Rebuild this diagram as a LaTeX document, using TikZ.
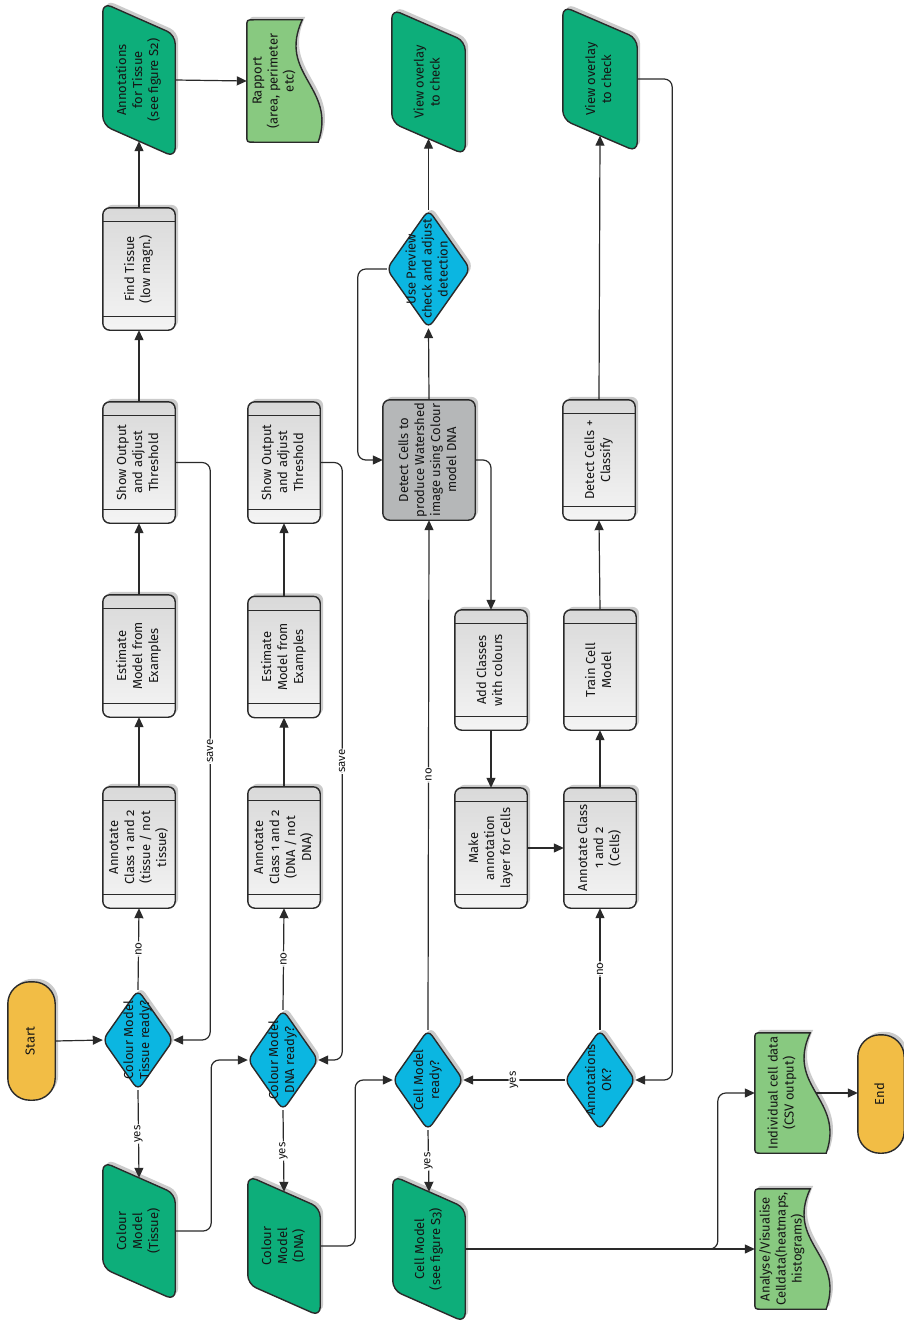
\documentclass[tikz,border=0pt]{standalone}
\usepackage{fontspec}
\setmainfont{Fira Sans}[Numbers=OldStyle]
\usetikzlibrary{arrows.meta,backgrounds,calc}
\definecolor{termc}{HTML}{F2BD45}
\definecolor{diac}{HTML}{0BB6E1}
\definecolor{datac}{HTML}{0DAE7A}
\definecolor{docc}{HTML}{88C980}
\definecolor{procc}{HTML}{D9D9D9}
\definecolor{proclc}{HTML}{F4F4F4}
\definecolor{darkc}{HTML}{B5B7B8}
\definecolor{linec}{HTML}{2A2A2A}
\definecolor{txtc}{HTML}{151515}
\newcommand\mysize{\fontsize{13}{16}\selectfont}
\newcommand\lblsize{\fontsize{11.5}{13}\selectfont}
\tikzset{
  shp/.style={draw=linec, line width=1.4pt},
  shad/.style={fill=black!45, opacity=0.45, transform canvas={shift={(3pt,3pt)}}},
  conn/.style={draw=linec, line width=1.2pt, rounded corners=8pt},
  arr/.style={conn, -{Triangle[length=10pt,width=9pt]}},
  lbl/.style={fill=white, inner sep=1pt, rotate=90, font=\lblsize, text=txtc},
  box/.style={inner sep=0pt, font=\mysize, text=txtc},
}
\newcommand\mknode[6]{\node[box, minimum width=#4pt, minimum height=#5pt] (#1) at (#2,#3) {\rotatebox{90}{\begin{tabular}{@{}c@{}}#6\end{tabular}}};}
% shape paths
\newcommand\procpath[2]{\path[#2, rounded corners=7pt] (#1.south west) rectangle (#1.north east);}
\newcommand\termpath[2]{\path[#2, rounded corners=22pt] (#1.south west) rectangle (#1.north east);}
\newcommand\diapath[2]{\path[#2, rounded corners=7pt] (#1.north) -- (#1.east) -- (#1.south) -- (#1.west) -- cycle;}
\newcommand\datapath[2]{\path[#2, rounded corners=9pt] ([yshift=16pt]#1.north west) -- ([yshift=-16pt]#1.north east) -- ([yshift=-16pt]#1.south east) -- ([yshift=16pt]#1.south west) -- cycle;}
\newcommand\docpath[2]{\path[#2] (#1.north east) .. controls ($(#1.north east)!0.45!(#1.south east)+(-25pt,0)$) and ($(#1.north east)!0.55!(#1.south east)+(35pt,0)$) .. ([xshift=16pt]#1.south east)
  -- ([xshift=7pt]#1.south west) .. controls (#1.south west) .. ([yshift=7pt]#1.south west)
  -- ([yshift=-7pt]#1.north west) .. controls (#1.north west) .. ([xshift=7pt]#1.north west) -- cycle;}
% shape drawers
\newcommand\proc[1]{\begin{pgfonlayer}{background}\procpath{#1}{shad}\procpath{#1}{shp, top color=procc, bottom color=proclc}
  \draw[linec, line width=1.1pt] ([yshift=-14pt]#1.north west) -- ([yshift=-14pt]#1.north east);
  \draw[linec, line width=1.1pt] ([yshift=14pt]#1.south west) -- ([yshift=14pt]#1.south east);\end{pgfonlayer}}
\newcommand\darkproc[1]{\begin{pgfonlayer}{background}\procpath{#1}{shad}\procpath{#1}{shp, fill=darkc}\end{pgfonlayer}}
\newcommand\term[1]{\begin{pgfonlayer}{background}\termpath{#1}{shad}\termpath{#1}{shp, fill=termc}\end{pgfonlayer}}
\newcommand\dia[1]{\begin{pgfonlayer}{background}\diapath{#1}{shad}\diapath{#1}{shp, fill=diac}\end{pgfonlayer}}
\newcommand\data[1]{\begin{pgfonlayer}{background}\datapath{#1}{shad}\datapath{#1}{shp, fill=datac}\end{pgfonlayer}}
\newcommand\doc[1]{\begin{pgfonlayer}{background}\docpath{#1}{shad}\docpath{#1}{shp, fill=docc}\end{pgfonlayer}}
\begin{document}
\begin{tikzpicture}[x=1pt, y=-1pt]
\useasboundingbox (0,0) rectangle (904,1327);
\begin{pgfonlayer}{background}\fill[white] (0,0) rectangle (904,1327);\end{pgfonlayer}
% column 1
\mknode{start}{31.5}{1041}{47}{118}{Start}\term{start}
\mknode{d1}{138}{1040}{70}{100}{Colour Model\\Tissue ready?}\dia{d1}
\mknode{cmT}{139}{1231}{72}{106}{Colour\\Model\\(Tissue)}\data{cmT}
\mknode{annT}{139}{847.5}{72}{121}{Annotate\\Class 1 and 2\\(tissue / not\\tissue)}\proc{annT}
\mknode{estT}{139}{656}{72}{122}{Estimate\\Model from\\Examples}\proc{estT}
\mknode{showT}{139}{462.5}{72}{121}{Show Output\\and adjust\\Threshold}\proc{showT}
\mknode{findT}{139}{269}{72}{122}{Find Tissue\\(low magn.)}\proc{findT}
\mknode{annTis}{139}{80}{72}{122}{Annotations\\for Tissue\\(see figure S2)}\data{annTis}
\mknode{rapport}{274.5}{81}{55}{122}{Rapport\\(area, perimeter\\etc)}\doc{rapport}
% column 2
\mknode{d2}{283}{1060}{70}{100}{Colour Model\\DNA ready?}\dia{d2}
\mknode{cmD}{284}{1246}{72}{108}{Colour\\Model\\(DNA)}\data{cmD}
\mknode{annD}{284}{847.5}{72}{121}{Annotate\\Class 1 and 2\\(DNA / not\\DNA)}\proc{annD}
\mknode{estD}{284}{657}{72}{121}{Estimate\\Model from\\Examples}\proc{estD}
\mknode{showD}{284}{462.5}{72}{121}{Show Output\\and adjust\\Threshold}\proc{showD}
% column 3
\mknode{d3}{428}{1080}{70}{100}{Cell Model\\ready?}\dia{d3}
\mknode{cellM}{429}{1249}{72}{114}{Cell Model\\(see figure S3)}\data{cellM}
\mknode{detW}{429}{460}{92}{120}{Detect Cells to\\produce Watershed\\image using Colour\\model DNA}\darkproc{detW}
\mknode{prev}{428.5}{269}{83}{118}{Use Preview\\check and adjust\\detection}\dia{prev}
\mknode{view1}{428.5}{82}{73}{113}{View overlay\\to check}\data{view1}
\mknode{addC}{491}{670}{72}{120}{Add Classes\\with colours}\proc{addC}
\mknode{make}{491}{848}{72}{120}{Make\\annotation\\layer for Cells}\proc{make}
% column 4
\mknode{d4}{600}{1080}{70}{100}{Annotations\\OK?}\dia{d4}
\mknode{annC}{600}{848}{72}{120}{Annotate Class\\1 and 2\\(Cells)}\proc{annC}
\mknode{train}{600}{670}{72}{120}{Train Cell\\Model}\proc{train}
\mknode{detC}{599}{460}{72}{120}{Detect Cells +\\Classify}\proc{detC}
\mknode{view2}{600}{79}{74}{113}{View overlay\\to check}\data{view2}
% column 5
\mknode{indiv}{782.5}{1093}{55}{120}{Individual cell data\\(CSV output)}\doc{indiv}
\mknode{analyse}{782.5}{1249}{55}{120}{Analyse/Visualise\\Celldata(heatmaps,\\histograms)}\doc{analyse}
\mknode{endN}{881}{1094}{46}{118}{End}\term{endN}
% connectors
\draw[arr] (start.east) -- (d1.west);
\draw[arr] (d1.south) -- node[lbl]{yes} (cmT.north);
\draw[arr] (d1.north) -- node[lbl]{no} (annT.south);
\draw[arr] (annT.north) -- (estT.south);
\draw[arr] (estT.north) -- (showT.south);
\draw[arr] (showT.north) -- (findT.south);
\draw[arr] (findT.north) -- (annTis.south);
\draw[arr] (annTis.east) -- (rapport.west);
\draw[arr] (showT.east) -- ++(35,0) coordinate (sv1) -- (sv1 |- d1.east) node[lbl, midway]{save} -- (d1.east);
\draw[arr] (cmT.east) -- ++(36,0) |- (d2.west);
\draw[arr] (d2.south) -- node[lbl]{yes} (cmD.north);
\draw[arr] (d2.north) -- node[lbl]{no} (annD.south);
\draw[arr] (annD.north) -- (estD.south);
\draw[arr] (estD.north) -- (showD.south);
\draw[arr] (showD.east) -- ++(22,0) coordinate (sv2) -- (sv2 |- d2.east) node[lbl, midway]{save} -- (d2.east);
\draw[arr] (cmD.east) -- ++(35,0) |- (d3.west);
\draw[arr] (d3.south) -- node[lbl]{yes} (cellM.north);
\draw[arr] (d3.north) -- node[lbl]{no} (detW.south);
\draw[arr] (detW.north) -- (prev.south);
\draw[arr] (prev.north) -- (view1.south);
\draw[arr] (prev.west) -- ++(-29,0) |- (detW.west);
\draw[arr] (detW.east) -| (addC.north);
\draw[arr] (addC.south) -- (make.north);
\draw[arr] (make.east) -- (annC.west);
\draw[arr] (annC.north) -- (train.south);
\draw[arr] (train.north) -- (detC.south);
\draw[arr] (detC.north) -- (view2.south);
\draw[arr] (view2.east) -- ++(35,0) |- (d4.east);
\draw[arr] (d4.north) -- node[lbl]{no} (annC.south);
\draw[arr] (d4.west) -- node[lbl]{yes} (d3.east);
\draw[arr] (cellM.east) -- (analyse.west);
\coordinate (br) at ($(analyse.west)+(-37,0)$);
\draw[arr] (cellM.east) -- (br) |- (indiv.west);
\coordinate (io) at ($(indiv.north east)!0.5!(indiv.south east)+(6pt,0)$);
\draw[arr] (io) -- (io -| endN.west);
\end{tikzpicture}
\end{document}
